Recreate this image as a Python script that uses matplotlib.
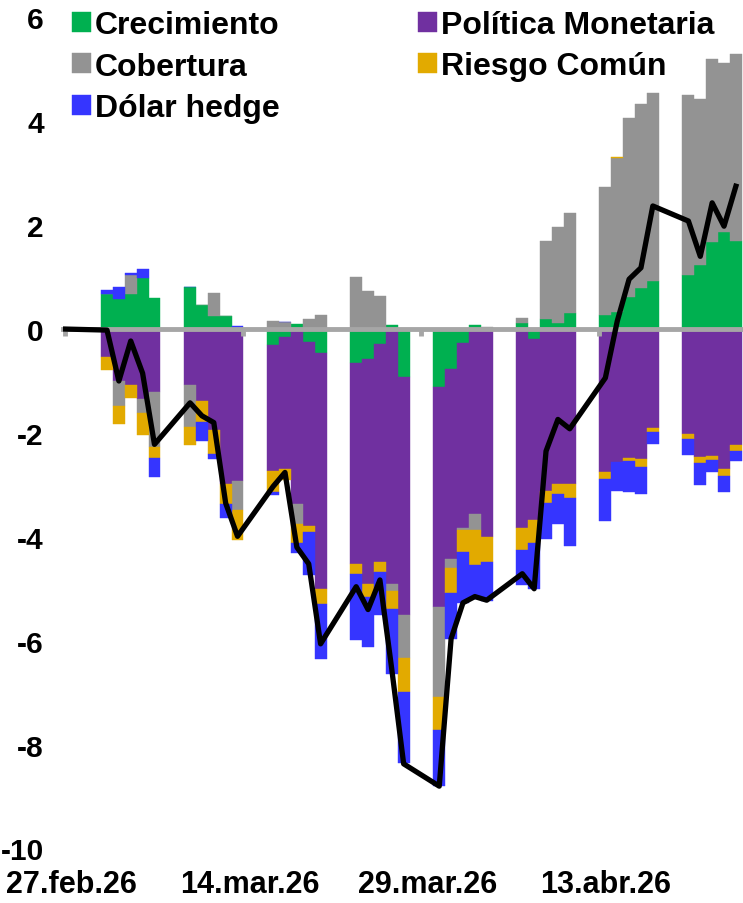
import numpy as np
import pandas as pd
import matplotlib.pyplot as plt
import matplotlib.transforms as mtransforms

plt.rcParams['font.family'] = ['Liberation Sans', 'DejaVu Sans']
plt.rcParams['font.weight'] = 'bold'
plt.rcParams['axes.unicode_minus'] = False

start = pd.Timestamp('2026-02-27')
bar_dates = pd.bdate_range('2026-03-02', '2026-04-24')

# contributions by day (Mar 2 .. Apr 24, business days)
crecimiento = [0.67, 0.57, 0.67, 0.99, 0.60,
               0.81, 0.47, 0.25, 0.25, 0.00,
               -0.31, -0.15, 0.09, -0.25, -0.46,
               -0.65, -0.57, -0.29, 0.08, -0.92,
               -1.11, -0.77, -0.27, 0.07, -0.03,
               0.12, -0.20, 0.19, 0.12, 0.30,
               0.28, 0.33, 0.61, 0.80, 0.92,
               1.04, 1.24, 1.67, 1.87, 1.69]
politica = [-0.53, -1.00, -1.08, -1.34, -1.21,
            -1.07, -1.39, -1.95, -2.99, -2.93,
            -2.43, -2.55, -3.36, -3.55, -4.54,
            -3.87, -4.34, -4.20, -4.91, -4.58,
            -4.24, -3.65, -3.56, -3.56, -3.97,
            -3.83, -3.48, -3.12, -2.99, -2.99,
            -2.76, -2.56, -2.48, -2.51, -1.91,
            -2.02, -2.47, -2.45, -2.70, -2.24]
cobertura = [0.00, -0.48, 0.38, -0.27, -1.07,
             -0.81, 0.00, 0.45, 0.00, -0.55,
             0.15, 0.14, -0.39, 0.20, 0.27,
             1.00, 0.74, 0.64, -0.14, -0.84,
             -1.73, -0.18, -0.03, -0.31, 0.04,
             0.10, 0.00, 1.51, 1.85, 1.94,
             2.46, 2.96, 3.46, 3.54, 3.63,
             3.46, 3.18, 3.52, 3.25, 3.60]
riesgo = [-0.25, -0.34, -0.24, -0.42, -0.21,
          -0.36, -0.40, -0.46, -0.38, -0.59,
          -0.40, -0.20, -0.37, -0.10, -0.29,
          -0.20, -0.25, -0.19, -0.33, -0.64,
          -0.64, -0.49, -0.44, -0.68, -0.48,
          -0.43, -0.44, -0.23, -0.18, -0.26,
          -0.12, 0.03, -0.06, -0.14, -0.07,
          -0.09, -0.10, -0.07, -0.12, -0.10]
dolar = [0.08, 0.24, 0.02, 0.16, -0.35,
         0.00, -0.37, -0.10, -0.26, 0.06,
         -0.05, 0.00, -0.19, -0.83, -1.07,
         -1.26, -0.97, -0.83, -1.26, -1.38,
         -1.08, -0.87, -0.97, -0.65, -0.75,
         -0.67, -0.88, -0.69, -0.59, -0.92,
         -0.82, -0.56, -0.60, -0.52, -0.23,
         -0.32, -0.44, -0.24, -0.32, -0.20]

# total (black line), Feb 27 then the business days
total = [0.00,
         -0.02, -1.00, -0.23, -0.85, -2.22,
         -1.42, -1.67, -1.80, -3.35, -3.99,
         -3.03, -2.76, -4.20, -4.52, -6.06,
         -4.96, -5.40, -4.83, -6.55, -8.37,
         -8.80, -5.96, -5.27, -5.15, -5.22,
         -4.71, -5.00, -2.35, -1.74, -1.92,
         -0.94, 0.15, 0.96, 1.18, 2.37,
         2.08, 1.40, 2.43, 1.98, 2.75]

tick_dates = pd.to_datetime(['2026-02-27', '2026-03-14', '2026-03-29', '2026-04-13'])
tick_labels = ['27.feb.26', '14.mar.26', '29.mar.26', '13.abr.26']

series = [('Crecimiento', crecimiento, '#00B050'),
          ('Política Monetaria', politica, '#7030A0'),
          ('Cobertura', cobertura, '#939393'),
          ('Riesgo Común', riesgo, '#E2AA00'),
          ('Dólar hedge', dolar, '#3535FF')]

fig = plt.figure(figsize=(7.43, 9.04), dpi=100)
ax = fig.add_axes([63.1 / 743, 1 - 849.5 / 904, (743 - 63.1) / 743, (849.5 - 18.4) / 904])

x = (bar_dates - start).days.values + 0.5
pos = np.zeros(len(x))
neg = np.zeros(len(x))
handles = {}
for name, vals, col in series:
    v = np.array(vals)
    bottom = np.where(v >= 0, pos, neg)
    b = ax.bar(x, v, bottom=bottom, width=1.0, color=col, edgecolor=col,
               linewidth=0.3, label=name, zorder=1)
    handles[name] = b
    pos += np.clip(v, 0, None)
    neg += np.clip(v, None, 0)

line_dates = [start] + list(bar_dates)
line_x = np.array([(d - start).days for d in line_dates]) + 0.5
line_x[0] = 0.0
ax.plot(line_x, total, color='black', lw=3.8, zorder=4)

ax.set_xlim(-0.2, 57.1)
ax.set_ylim(-10, 6)

for s in ['top', 'right', 'left']:
    ax.spines[s].set_visible(False)
ax.spines['bottom'].set_position(('data', 0))
ax.spines['bottom'].set_color('#A6A6A6')
ax.spines['bottom'].set_linewidth(3.5)
ax.spines['bottom'].set_zorder(3)

tick_x = (tick_dates - start).days.values
ax.set_xticks(tick_x)
ax.tick_params(axis='x', direction='out', length=5, width=3.5, color='#A6A6A6',
               labelbottom=False)
trans = mtransforms.blended_transform_factory(ax.transData, ax.transAxes)
for tx, lab in zip(tick_x, tick_labels):
    ax.text(tx + 0.5, -0.0427, lab, transform=trans, ha='center', va='center',
            fontsize=22, fontweight='bold')

ax.set_yticks(range(-10, 7, 2))
ax.tick_params(axis='y', length=0, pad=14, labelsize=21.5)
plt.setp(ax.get_yticklabels(), fontweight='bold')

order = ['Crecimiento', 'Cobertura', 'Dólar hedge', 'Política Monetaria', 'Riesgo Común']
fig.legend([handles[k] for k in order], order, loc='upper left',
           bbox_to_anchor=(72 / 743, 1 - 11 / 904), ncol=2, frameon=False,
           prop={'size': 23, 'weight': 'bold'}, handlelength=0.58, handleheight=0.58,
           handletextpad=0.14, columnspacing=4.33, labelspacing=0.36,
           borderaxespad=0, borderpad=0)

fig.savefig('out.png', dpi=100)
